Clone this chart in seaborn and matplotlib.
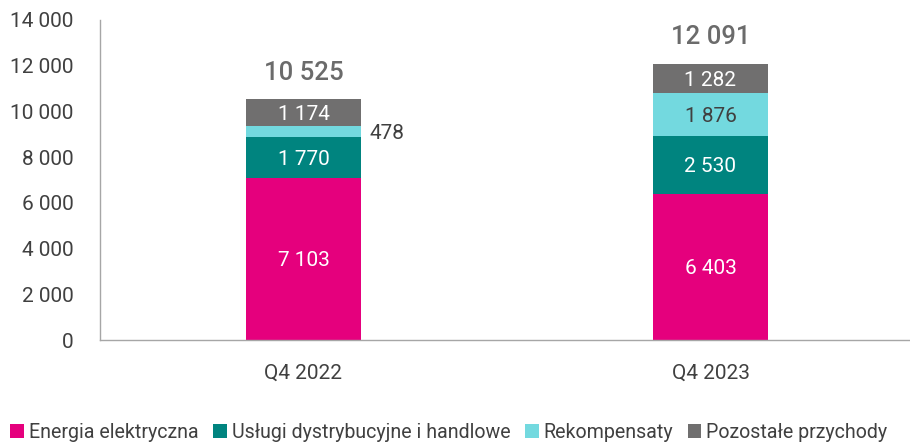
import matplotlib
matplotlib.use("Agg")
import matplotlib.pyplot as plt
import seaborn as sns
import pandas as pd
import numpy as np
from matplotlib.patches import Patch

quarters = ["Q4 2022", "Q4 2023"]
series_names = ["Energia elektryczna", "Usługi dystrybucyjne i handlowe",
                "Rekompensaty", "Pozostałe przychody"]
energia = [7103, 6403]
uslugi = [1770, 2530]
rekompensaty = [478, 1876]
pozostale = [1174, 1282]
totals = [10525, 12091]
y_ticks = [0, 2000, 4000, 6000, 8000, 10000, 12000, 14000]

colors = ["#E5007D", "#00847F", "#73D9DF", "#706F6F"]
label_colors = ["white", "white", "#404040", "white"]

sns.set_theme(style="white")
plt.rcParams["font.family"] = ["Roboto", "DejaVu Sans"]

def fmt(v):
    return f"{v:,}".replace(",", " ")

fig = plt.figure(figsize=(9.1, 4.44), dpi=100)
ax = fig.add_axes([100 / 910, 104 / 444, 814 / 910, 320 / 444])

values = [energia, uslugi, rekompensaty, pozostale]
bottoms = np.zeros(len(quarters))
bar_w = 0.283
for name, vals, col, lc in zip(series_names, values, colors, label_colors):
    df = pd.DataFrame({"q": quarters, "v": vals})
    sns.barplot(data=df, x="q", y="v", color=col, width=bar_w, ax=ax,
                bottom=bottoms, saturation=1, linewidth=0)
    for i, v in enumerate(vals):
        mid = bottoms[i] + v / 2
        if v < 800:
            ax.text(i + bar_w / 2 + 0.02, mid - 80, fmt(v), ha="left", va="center",
                    fontsize=15, color="#404040")
        else:
            ax.text(i, mid - 80, fmt(v), ha="center", va="center",
                    fontsize=15, color=lc)
    bottoms = bottoms + np.array(vals)

for i, t in enumerate(totals):
    ax.text(i, t + 650, fmt(t), ha="center", va="bottom", fontsize=18.5,
            fontweight="medium", color="#6b6b6b")

ax.set_xlim(-0.5, 1.5)
ax.set_ylim(0, 14000)
ax.set_yticks(y_ticks)
ax.set_yticklabels([fmt(v) for v in y_ticks])
ax.set_xlabel("")
ax.set_ylabel("")
ax.tick_params(axis="both", labelsize=15, colors="#404040", length=0)
ax.tick_params(axis="y", pad=19)
ax.tick_params(axis="x", pad=17)
for s in ["top", "right"]:
    ax.spines[s].set_visible(False)
for s in ["left", "bottom"]:
    ax.spines[s].set_color("#a6a6a6")
    ax.spines[s].set_linewidth(1)

handles = [Patch(facecolor=c, edgecolor="none") for c in colors]
fig.legend(handles, series_names, loc="center left",
           bbox_to_anchor=(10 / 910, 1 - 432 / 444), ncol=4, frameon=False,
           fontsize=14.1, handlelength=0.7, handleheight=0.7,
           handletextpad=0.25, columnspacing=0.75, borderaxespad=0,
           borderpad=0, labelcolor="#404040")

fig.savefig("out.png", dpi=100)
